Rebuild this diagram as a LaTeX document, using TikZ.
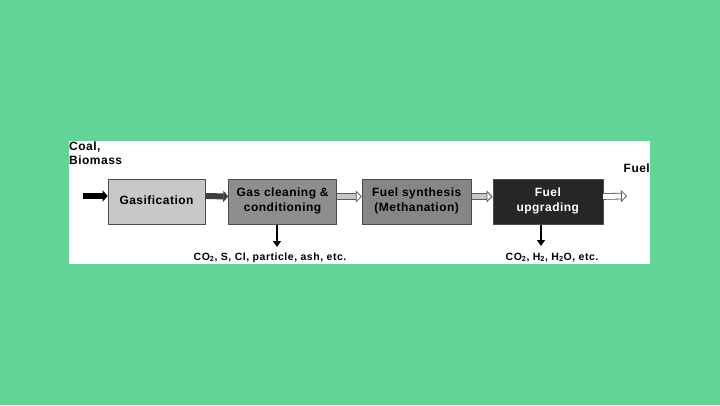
\documentclass[tikz,border=0pt]{standalone}
\usepackage{fontspec}
\setmainfont{Liberation Sans}
\usetikzlibrary{arrows.meta, positioning}
\definecolor{slidegreen}{HTML}{64D398}
\definecolor{boxlight}{HTML}{C8C8C8}
\definecolor{boxmid}{HTML}{8E8E8E}
\definecolor{boxdeep}{HTML}{868686}
\definecolor{boxdark}{HTML}{262626}
\newcommand{\spaced}{\addfontfeature{LetterSpace=4}}

\begin{document}
\begin{tikzpicture}[x=1pt,y=-1pt,
  stage/.style={draw=gray!60!black, line width=0.6pt, minimum height=45pt,
    font=\bfseries\fontsize{12}{15}\selectfont\spaced, align=center,
    inner sep=1pt, text depth=4pt},
  flow/.style={line width=6pt, -{Triangle[length=5pt,width=11pt]}},
  hollow/.style={double distance=5pt, line width=0.8pt,
    -{Triangle[open,length=6pt,width=12pt]}},
  vent/.style={line width=1.6pt, -{Triangle[length=6pt,width=8pt]}},
  note/.style={font=\bfseries\fontsize{10.5}{12}\selectfont\addfontfeature{LetterSpace=5}, inner sep=0pt}]
  \useasboundingbox (0,0) rectangle (720,405);
  \fill[slidegreen] (0,0) rectangle (720,405);
  \fill[white] (69,141) rectangle (650,264);
  % process stages
  \node[stage, fill=boxlight, minimum width=97pt] (gasify) at (156.5,202) {Gasification};
  \node[stage, fill=boxmid, minimum width=108pt, right=23pt of gasify] (clean) {Gas cleaning \&\\conditioning};
  \node[stage, fill=boxdeep, minimum width=109pt, right=25pt of clean] (synth) {Fuel synthesis\\(Methanation)};
  \node[stage, fill=boxdark, text=white, minimum width=110pt, right=21pt of synth] (upgrade) {Fuel\\upgrading};
  % feed and product
  \coordinate (feed) at (83,196);
  \coordinate (product) at (627,196);
  \node[anchor=north west, align=left, inner sep=0pt, font=\bfseries\fontsize{12}{14}\selectfont\spaced] (coal) at (69,142) {Coal,\\Biomass};
  \node[anchor=east, inner sep=0pt, font=\bfseries\fontsize{12}{14}\selectfont\spaced] (fuel) at (650,168) {Fuel};
  % main flow
  \draw[flow, black] (feed) -- ([yshift=6pt]gasify.west);
  \draw[flow, black!75] ([yshift=6pt]gasify.east) -- ([yshift=5.5pt]clean.west);
  \draw[hollow, draw=gray!70!black, double=gray!45] ([yshift=5.5pt]clean.east) -- ([yshift=5.5pt]synth.west);
  \draw[hollow, draw=gray!70!black, double=gray!45] ([yshift=5.5pt]synth.east) -- ([yshift=5.5pt]upgrade.west);
  \draw[hollow, draw=gray!70!black, double=white] ([yshift=5.5pt]upgrade.east) -- (product);
  % by-products
  \coordinate (ventA) at (277,247);
  \coordinate (ventB) at (541,246);
  \draw[vent] (clean.south -| ventA) -- (ventA);
  \draw[vent] (upgrade.south -| ventB) -- (ventB);
  \node[note] (wasteA) at (270,257.5) {CO\textsubscript{2}, S, Cl, particle, ash, etc.};
  \node[note] (wasteB) at (552,257.5) {CO\textsubscript{2}, H\textsubscript{2}, H\textsubscript{2}O, etc.};
\end{tikzpicture}
\end{document}
